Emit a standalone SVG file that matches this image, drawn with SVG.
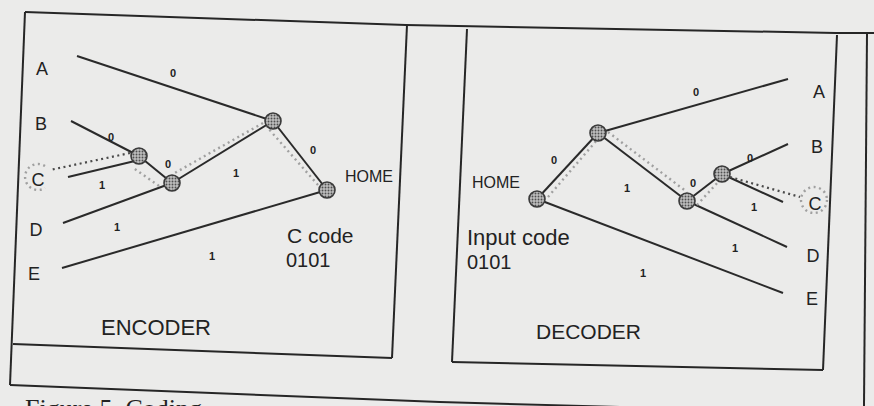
<svg xmlns="http://www.w3.org/2000/svg" width="874" height="406" viewBox="0 0 874 406">
<defs>
<pattern id="stip" width="3" height="3" patternUnits="userSpaceOnUse">
<rect width="3" height="3" fill="#bdbdbd"/>
<circle cx="1.5" cy="1.5" r="0.95" fill="#505050"/>
</pattern>
</defs>
<style>
.frame{fill:none;stroke:#262626;stroke-width:2}
.edge{fill:none;stroke:#2a2a2a;stroke-width:2}
.path{fill:none;stroke:#a0a0a0;stroke-width:2.4;stroke-dasharray:2 3.5}
.pathd{fill:none;stroke:#4a4a4a;stroke-width:2.2;stroke-dasharray:2 3.5}
.node{fill:url(#stip);stroke:#3a3a3a;stroke-width:1.6}
.leaf{font-family:"Liberation Sans",Arial,sans-serif;font-size:18px;fill:#222;text-anchor:middle}
.bit{font-family:"Liberation Sans",Arial,sans-serif;font-size:11px;font-weight:bold;fill:#222;text-anchor:middle}
.lbl{font-family:"Liberation Sans",Arial,sans-serif;fill:#222}
.cap{font-family:"Liberation Serif","Times New Roman",serif;font-size:26px;fill:#222}
</style>
<rect width="874" height="406" fill="#ebebea"/>
<g id="frames">
<polyline class="frame" points="25,12 406,25 836,33 874,33"/>
<line class="frame" x1="25" y1="12" x2="10" y2="385"/>
<line class="frame" x1="407" y1="25" x2="392" y2="358"/>
<line class="frame" x1="13" y1="344" x2="392" y2="358"/>
<polyline class="frame" points="10,385 440,402 620,407"/>
<line class="frame" x1="467" y1="29" x2="452" y2="362"/>
<line class="frame" x1="452" y1="362" x2="823" y2="370"/>
<line class="frame" x1="837" y1="35" x2="823" y2="370"/>
<line class="frame" x1="867" y1="34" x2="864" y2="406"/>
</g>
<g id="connectors">
<line class="edge" x1="77" y1="56" x2="273" y2="121"/>
<line class="edge" x1="71" y1="121" x2="139" y2="156"/>
<line class="edge" x1="68" y1="177" x2="139" y2="160"/>
<line class="edge" x1="139" y1="156" x2="172" y2="183"/>
<line class="edge" x1="63" y1="223" x2="172" y2="183"/>
<line class="edge" x1="172" y1="183" x2="273" y2="121"/>
<line class="edge" x1="273" y1="121" x2="327" y2="190"/>
<line class="edge" x1="62" y1="268" x2="327" y2="190"/>
<line class="path" x1="318" y1="185" x2="267" y2="127"/>
<line class="path" x1="263" y1="123" x2="173" y2="174"/>
<line class="path" x1="159" y1="186" x2="132" y2="167"/>
<line class="pathd" x1="130" y1="153" x2="50" y2="170"/>
<path class="path" d="M 45,166 A 13 13 0 1 0 45,188"/>
<line class="edge" x1="598" y1="133" x2="788" y2="79"/>
<line class="edge" x1="537" y1="199" x2="598" y2="133"/>
<line class="edge" x1="537" y1="199" x2="783" y2="293"/>
<line class="edge" x1="598" y1="133" x2="687" y2="201"/>
<line class="edge" x1="687" y1="201" x2="787" y2="247"/>
<line class="edge" x1="687" y1="201" x2="722" y2="174"/>
<line class="edge" x1="722" y1="174" x2="788" y2="144"/>
<line class="edge" x1="722" y1="174" x2="783" y2="202"/>
<line class="path" x1="548" y1="197" x2="597" y2="140"/>
<line class="path" x1="608" y1="132" x2="687" y2="192"/>
<line class="path" x1="697" y1="205" x2="720" y2="180"/>
<line class="pathd" x1="730" y1="177" x2="800" y2="197"/>
<circle class="path" cx="814" cy="200" r="13"/>
</g>
<g id="enc-n1"><circle class="node" cx="273" cy="121" r="8"/></g>
<g id="enc-n2"><circle class="node" cx="139" cy="156" r="8"/></g>
<g id="enc-n3"><circle class="node" cx="172" cy="183" r="8"/></g>
<g id="enc-home"><circle class="node" cx="327" cy="190" r="8"/></g>
<g id="dec-n1"><circle class="node" cx="598" cy="133" r="8"/></g>
<g id="dec-home"><circle class="node" cx="537" cy="199" r="8"/></g>
<g id="dec-n3"><circle class="node" cx="687" cy="201" r="8"/></g>
<g id="dec-n2"><circle class="node" cx="722" cy="174" r="8"/></g>
<g id="enc-labels">
<text class="leaf" x="42" y="75">A</text>
<text class="leaf" x="41" y="130">B</text>
<text class="leaf" x="38" y="186">C</text>
<text class="leaf" x="36" y="236">D</text>
<text class="leaf" x="34" y="280">E</text>
<text class="bit" x="173" y="77">0</text>
<text class="bit" x="111" y="141">0</text>
<text class="bit" x="102" y="189">1</text>
<text class="bit" x="168" y="168">0</text>
<text class="bit" x="236" y="177">1</text>
<text class="bit" x="313" y="154">0</text>
<text class="bit" x="117" y="231">1</text>
<text class="bit" x="212" y="260">1</text>
<text class="lbl" x="345" y="182" font-size="16">HOME</text>
<text class="lbl" x="287" y="243" font-size="21">C code</text>
<text class="lbl" x="286" y="267" font-size="20">0101</text>
<text class="lbl" x="101" y="335" font-size="22">ENCODER</text>
</g>
<g id="dec-labels">
<text class="leaf" x="819" y="98">A</text>
<text class="leaf" x="817" y="153">B</text>
<text class="leaf" x="815" y="210">C</text>
<text class="leaf" x="813" y="262">D</text>
<text class="leaf" x="812" y="305">E</text>
<text class="bit" x="696" y="96">0</text>
<text class="bit" x="554" y="164">0</text>
<text class="bit" x="627" y="192">1</text>
<text class="bit" x="693" y="187">0</text>
<text class="bit" x="750" y="162">0</text>
<text class="bit" x="754" y="211">1</text>
<text class="bit" x="735" y="252">1</text>
<text class="bit" x="643" y="277">1</text>
<text class="lbl" x="472" y="188" font-size="16">HOME</text>
<text class="lbl" x="467" y="245" font-size="22">Input code</text>
<text class="lbl" x="467" y="269" font-size="20">0101</text>
<text class="lbl" x="536" y="339" font-size="21">DECODER</text>
</g>
<text class="cap" x="25" y="417">Figure 5. Coding</text>
</svg>
